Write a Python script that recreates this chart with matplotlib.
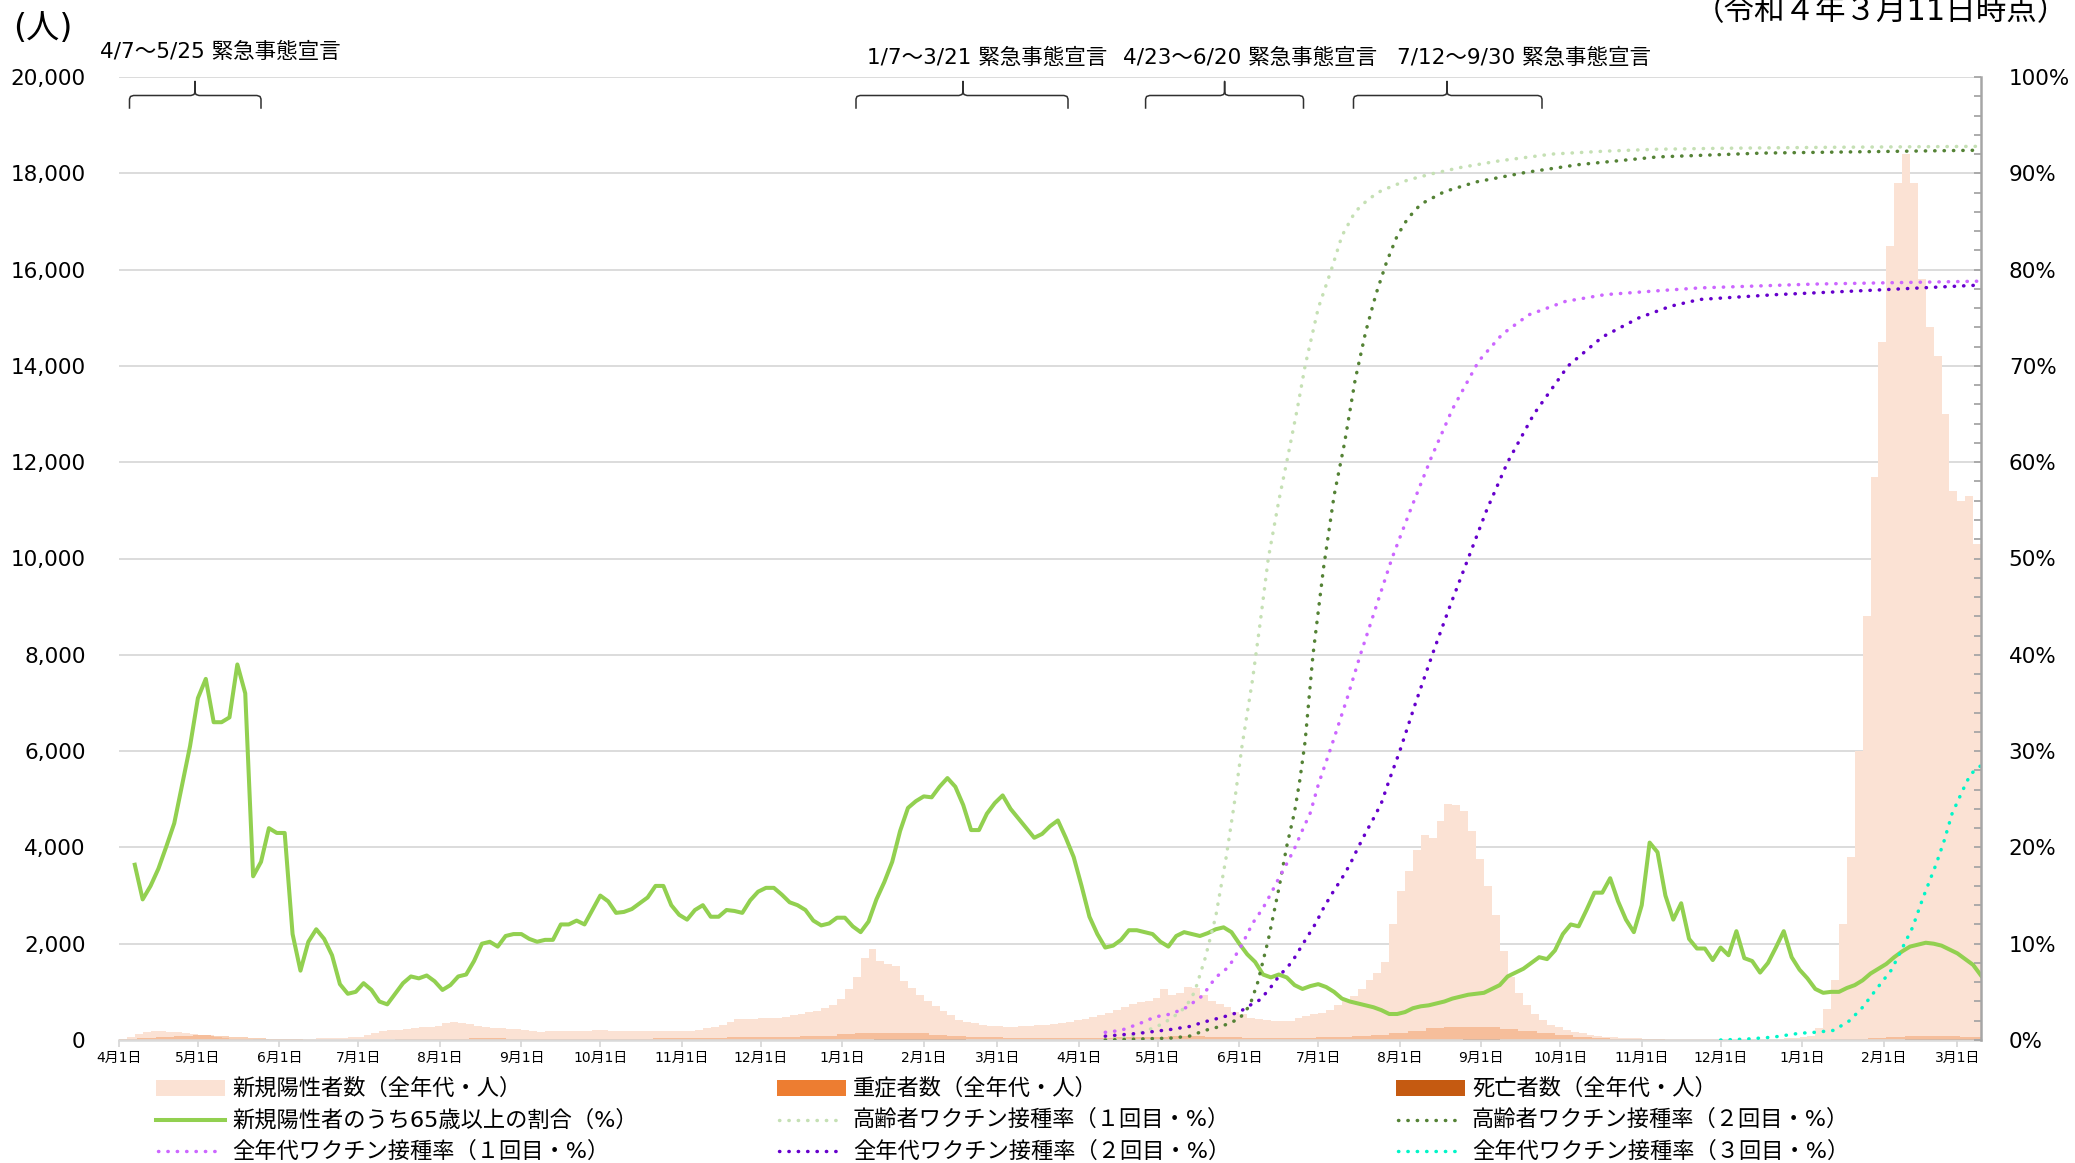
import numpy as np
import pandas as pd
import matplotlib
matplotlib.use('Agg')
import matplotlib.pyplot as plt
from matplotlib.lines import Line2D
from matplotlib.patches import Rectangle
from matplotlib.ticker import MultipleLocator, FuncFormatter

# 日本語はNoto CJK、数字はDejaVuで描く
plt.rcParams['font.family'] = ['DejaVu Sans', 'Noto Sans CJK JP']

W, H = 2075, 1163

# 新規陽性者数（7日平均, 2020-04-01から3日ごと）
new_cases = [20, 60, 120, 165, 185, 185, 175, 165, 145, 125, 112, 100, 70, 40, 22, 15, 12, 10, 10, 12,
             15, 18, 20, 25, 30, 35, 40, 45, 50, 55, 60, 110, 150, 180, 200, 215, 235, 255, 265, 275,
             285, 345, 365, 355, 330, 290, 265, 250, 240, 235, 220, 205, 185, 175, 185, 195, 190, 180, 180, 195,
             205, 205, 195, 187, 185, 185, 187, 190, 187, 187, 185, 185, 190, 215, 240, 270, 320, 380, 436, 436,
             440, 465, 465, 455, 480, 515, 550, 575, 610, 660, 720, 850, 1050, 1300, 1700, 1880, 1650, 1570, 1540, 1230,
             1080, 940, 800, 700, 600, 510, 420, 370, 345, 320, 295, 285, 280, 277, 285, 295, 305, 315, 330, 355,
             380, 410, 440, 470, 510, 555, 620, 690, 740, 790, 820, 865, 1050, 940, 970, 1100, 1080, 930, 810, 740,
             680, 590, 530, 460, 440, 410, 404, 400, 404, 450, 500, 530, 560, 630, 720, 800, 910, 1050, 1250, 1400,
             1620, 2400, 3100, 3500, 3950, 4250, 4200, 4550, 4900, 4880, 4750, 4350, 3750, 3200, 2600, 1850, 1300, 980, 730, 540,
             415, 320, 260, 215, 170, 140, 110, 85, 70, 57, 45, 38, 32, 28, 25, 22, 20, 20, 18, 18,
             17, 17, 17, 17, 18, 18, 18, 20, 22, 25, 28, 32, 40, 60, 90, 250, 650, 1250, 2400, 3800,
             6000, 8800, 11700, 14500, 16500, 17800, 18400, 17800, 15800, 14800, 14200, 13000, 11400, 11200, 11300, 10300, 9300]

# 重症者数・死亡者数（2020-04-01から7日ごと）
severe = [20, 45, 70, 90, 100, 80, 55, 35, 20, 12, 8, 6, 5, 6, 8, 12, 17, 22, 28, 32,
          33, 30, 28, 27, 25, 24, 24, 25, 28, 32, 38, 40, 45, 55, 60, 65, 70, 80, 90, 115,
          135, 150, 155, 135, 110, 90, 70, 55, 45, 42, 40, 40, 42, 48, 55, 62, 70, 75, 75, 70,
          60, 50, 45, 45, 50, 55, 60, 75, 100, 140, 190, 250, 270, 280, 260, 220, 180, 140, 100, 70,
          45, 30, 20, 12, 8, 5, 3, 2, 2, 2, 3, 4, 6, 12, 20, 35, 55, 75, 80, 75,
          65, 55]
deaths = [1, 2, 3, 4, 5, 5, 4, 3, 2, 1, 0.5, 0.5, 0.5, 0.3, 0.3, 0.5, 1, 1.5, 2, 2,
          2.5, 2.5, 2, 2, 1.5, 1.5, 1.5, 1, 1, 1, 1, 1, 1.5, 2, 2.5, 3, 3.5, 4, 5, 6,
          9, 12, 15, 16, 15, 12, 10, 8, 6, 5, 4, 4, 3, 3, 3, 3.5, 4, 4.5, 4.5, 4,
          3.5, 3, 2, 1.5, 1.5, 1, 1, 1, 1.5, 3, 5, 8, 10, 12, 11, 9, 7, 5, 4, 3,
          2, 1, 0.5, 0.3, 0.2, 0.2, 0.1, 0.1, 0.1, 0.1, 0.1, 0.2, 0.3, 0.5, 1, 3, 8, 15, 20, 22,
          20, 18]

# 新規陽性者のうち65歳以上の割合（%, 2020-04-07から3日ごと）
ratio65 = [18.2, 14.6, 16.0, 17.8, 20.1, 22.5, 26.5, 30.5, 35.5, 37.5, 33.0, 33.0, 33.5, 39.0, 36.0, 17.0, 18.5, 22.0, 21.5, 21.5,
           11.0, 7.2, 10.2, 11.5, 10.5, 8.8, 5.8, 4.8, 5.0, 5.9, 5.2, 4.0, 3.7, 4.8, 5.9, 6.6, 6.4, 6.7, 6.1, 5.2,
           5.7, 6.6, 6.8, 8.2, 10.0, 10.2, 9.7, 10.8, 11.0, 11.0, 10.5, 10.2, 10.4, 10.4, 12.0, 12.0, 12.4, 12.0, 13.5, 15.0,
           14.4, 13.2, 13.3, 13.6, 14.2, 14.8, 16.0, 16.0, 14.0, 13.0, 12.5, 13.5, 14.0, 12.8, 12.8, 13.5, 13.4, 13.2, 14.5, 15.4,
           15.8, 15.8, 15.1, 14.3, 14.0, 13.5, 12.4, 11.9, 12.1, 12.7, 12.7, 11.8, 11.2, 12.3, 14.6, 16.4, 18.5, 21.7, 24.1, 24.8,
           25.3, 25.2, 26.3, 27.2, 26.3, 24.4, 21.8, 21.8, 23.5, 24.6, 25.4, 24.0, 23.0, 22.0, 21.0, 21.4, 22.2, 22.8, 21.0, 19.0,
           16.0, 12.8, 11.0, 9.6, 9.8, 10.4, 11.4, 11.4, 11.2, 11.0, 10.2, 9.7, 10.8, 11.2, 11.0, 10.8, 11.1, 11.5, 11.7, 11.2,
           10.0, 8.9, 8.1, 6.8, 6.5, 6.8, 6.5, 5.7, 5.3, 5.6, 5.8, 5.5, 5.0, 4.3, 4.0, 3.8, 3.6, 3.4, 3.1, 2.7,
           2.7, 2.9, 3.3, 3.5, 3.6, 3.8, 4.0, 4.3, 4.5, 4.7, 4.8, 4.9, 5.3, 5.7, 6.6, 7.0, 7.4, 8.0, 8.6, 8.4,
           9.3, 11.0, 12.0, 11.8, 13.5, 15.3, 15.3, 16.8, 14.4, 12.5, 11.2, 14.0, 20.5, 19.5, 15.0, 12.5, 14.2, 10.5, 9.5, 9.5,
           8.3, 9.6, 8.8, 11.3, 8.5, 8.2, 7.0, 8.0, 9.6, 11.3, 8.6, 7.3, 6.4, 5.3, 4.9, 5.0, 5.0, 5.4, 5.7, 6.2,
           6.9, 7.4, 7.9, 8.6, 9.2, 9.7, 9.9, 10.1, 10.0, 9.8, 9.4, 9.0, 8.4, 7.8, 6.7]

# ワクチン接種率（%）
eld1_dates = ['2021-04-11', '2021-04-20', '2021-04-27', '2021-05-03', '2021-05-09', '2021-05-12', '2021-05-15',
              '2021-05-19', '2021-05-23', '2021-05-27', '2021-05-30', '2021-06-02', '2021-06-06', '2021-06-09',
              '2021-06-12', '2021-06-16', '2021-06-19', '2021-06-23', '2021-06-26', '2021-07-01', '2021-07-06',
              '2021-07-10', '2021-07-15', '2021-07-20', '2021-07-25', '2021-08-04', '2021-08-14', '2021-08-24',
              '2021-09-08', '2021-09-28', '2021-10-18', '2021-11-07', '2021-12-02', '2022-01-11', '2022-03-10']
eld1 = [0.0, 0.3, 1.0, 1.7, 2.8, 3.6, 5.0, 8.5, 12.8, 19.0, 24.4, 30.5, 37.4, 43.5, 50.0, 56.0, 60.0, 65.5,
        70.0, 76.0, 80.0, 83.5, 86.0, 87.3, 88.2, 89.3, 90.0, 90.6, 91.3, 92.0, 92.3, 92.5, 92.6, 92.7, 92.8]

eld2_dates = ['2021-04-11', '2021-05-06', '2021-05-13', '2021-05-19', '2021-05-26', '2021-06-01', '2021-06-05',
              '2021-06-08', '2021-06-12', '2021-06-16', '2021-06-19', '2021-06-22', '2021-06-24', '2021-06-26',
              '2021-06-29', '2021-07-03', '2021-07-07', '2021-07-11', '2021-07-15', '2021-07-19', '2021-07-23',
              '2021-07-27', '2021-07-31', '2021-08-04', '2021-08-09', '2021-08-18', '2021-08-30', '2021-09-18',
              '2021-10-08', '2021-11-07', '2021-12-17', '2022-03-10']
eld2 = [0.0, 0.2, 0.4, 1.0, 1.5, 2.2, 3.6, 6.0, 10.4, 15.7, 20.1, 23.7, 27.0, 31.0, 40.0, 49.0, 56.5, 62.0,
        68.5, 73.5, 77.5, 80.8, 83.5, 85.3, 86.8, 88.1, 89.1, 90.1, 90.9, 91.7, 92.1, 92.4]

all1_dates = ['2021-04-11', '2021-04-17', '2021-04-24', '2021-04-30', '2021-05-06', '2021-05-12', '2021-05-18',
              '2021-05-23', '2021-05-28', '2021-06-02', '2021-06-06', '2021-06-10', '2021-06-13', '2021-06-16',
              '2021-06-19', '2021-06-22', '2021-06-25', '2021-06-28', '2021-07-01', '2021-07-06', '2021-07-12',
              '2021-07-17', '2021-07-23', '2021-07-29', '2021-08-05', '2021-08-13', '2021-08-21', '2021-08-31',
              '2021-09-09', '2021-09-19', '2021-10-03', '2021-10-18', '2021-11-07', '2021-11-23', '2022-01-06',
              '2022-03-10']
all1 = [0.8, 1.0, 1.7, 2.4, 2.7, 3.4, 4.6, 6.5, 7.6, 9.9, 12.1, 13.7, 15.2, 16.8, 18.3, 19.9, 21.8, 23.6,
        26.5, 30.5, 35.5, 40.0, 45.0, 50.0, 55.0, 60.5, 65.5, 70.5, 73.3, 75.3, 76.7, 77.4, 77.8, 78.1, 78.5, 78.8]

all2_dates = ['2021-04-11', '2021-04-24', '2021-05-06', '2021-05-13', '2021-05-19', '2021-05-26', '2021-06-01',
              '2021-06-05', '2021-06-09', '2021-06-13', '2021-06-16', '2021-06-21', '2021-06-25', '2021-06-30',
              '2021-07-03', '2021-07-06', '2021-07-10', '2021-07-13', '2021-07-16', '2021-07-19', '2021-07-22',
              '2021-07-25', '2021-07-28', '2021-08-01', '2021-08-07', '2021-08-14', '2021-08-20', '2021-08-27',
              '2021-09-03', '2021-09-11', '2021-09-21', '2021-10-04', '2021-10-17', '2021-10-31', '2021-11-12',
              '2021-11-23', '2021-12-22', '2022-01-31', '2022-03-10']
all2 = [0.4, 0.7, 1.1, 1.4, 1.9, 2.4, 2.9, 3.6, 4.2, 5.5, 6.6, 8.1, 9.9, 12.1, 13.7, 15.1, 16.8, 18.2, 19.9,
        21.5, 23.0, 24.6, 27.0, 30.0, 35.0, 40.5, 45.0, 50.0, 55.0, 60.0, 65.0, 70.0, 73.0, 75.0, 76.2, 76.9,
        77.4, 77.9, 78.4]

all3_dates = ['2021-12-01', '2021-12-11', '2021-12-21', '2021-12-31', '2022-01-06', '2022-01-13', '2022-01-19',
              '2022-01-24', '2022-01-29', '2022-02-04', '2022-02-08', '2022-02-12', '2022-02-16', '2022-02-21',
              '2022-02-24', '2022-02-27', '2022-03-03', '2022-03-06', '2022-03-10']
all3 = [0.0, 0.1, 0.3, 0.7, 0.8, 1.0, 2.0, 3.4, 5.2, 7.3, 9.5, 11.7, 14.8, 18.3, 20.7, 23.5, 25.9, 27.6, 28.5]

declarations = ['4/7～5/25 緊急事態宣言', '1/7～3/21 緊急事態宣言', '4/23～6/20 緊急事態宣言', '7/12～9/30 緊急事態宣言']

c_cases, c_severe, c_death = '#FBE2D4', '#ED7D31', '#C55A11'
c_ratio = '#92D050'
c_eld1, c_eld2, c_all1, c_all2, c_all3 = '#C5E0B4', '#548235', '#CC66FF', '#6600CC', '#00F5C8'
dotted = dict(ls=(0, (0.1, 2.6)), lw=2.5, dash_capstyle='round')

fig = plt.figure(figsize=(W / 100, H / 100), dpi=100)
ax = fig.add_axes([119 / W, 1 - 1040 / H, (1981 - 119) / W, (1040 - 77) / H])
ax2 = ax.twinx()

# 棒グラフ（左軸）
case_x = pd.date_range('2020-04-01', periods=len(new_cases), freq='3D')
ax.bar(case_x, new_cases, width=3, align='edge', color=c_cases, linewidth=0)
week_x = pd.date_range('2020-04-01', periods=len(severe), freq='7D')
ax.bar(week_x, severe, width=7, align='edge', color=c_severe, alpha=0.35, linewidth=0)
ax.bar(week_x, deaths, width=7, align='edge', color=c_death, linewidth=0)

# 折れ線（右軸）
ratio_x = pd.date_range('2020-04-07', periods=len(ratio65), freq='3D')
ax2.plot(ratio_x, ratio65, color=c_ratio, lw=2.9, solid_joinstyle='round')
ax2.plot(pd.to_datetime(eld1_dates), eld1, color=c_eld1, **dotted)
ax2.plot(pd.to_datetime(eld2_dates), eld2, color=c_eld2, **dotted)
ax2.plot(pd.to_datetime(all1_dates), all1, color=c_all1, **dotted)
ax2.plot(pd.to_datetime(all2_dates), all2, color=c_all2, **dotted)
ax2.plot(pd.to_datetime(all3_dates), all3, color=c_all3, **dotted)

# 軸
ax.set_xlim(pd.Timestamp('2020-04-01'), pd.Timestamp('2022-03-10'))
ax.set_ylim(0, 20000)
ax2.set_ylim(0, 100)
months = pd.date_range('2020-04-01', '2022-03-01', freq='MS')
ax.set_xticks(months)
ax.set_xticklabels([f'{m.month}月1日' for m in months], fontsize=10)
ax.yaxis.set_major_locator(MultipleLocator(2000))
ax.yaxis.set_major_formatter(FuncFormatter(lambda v, p: f'{int(v):,}'))
ax2.yaxis.set_major_locator(MultipleLocator(10))
ax2.yaxis.set_minor_locator(MultipleLocator(2))
ax2.yaxis.set_major_formatter(FuncFormatter(lambda v, p: f'{int(v)}%'))

ax.set_axisbelow(True)
ax.grid(axis='y', color='#D9D9D9', lw=1.3)
for a in (ax, ax2):
    for s in ('top', 'left'):
        a.spines[s].set_visible(False)
ax.spines['right'].set_visible(False)
ax2.spines['bottom'].set_visible(False)
ax.spines['bottom'].set_color('#D9D9D9')
ax.spines['bottom'].set_linewidth(1.8)
ax2.spines['right'].set_color('#A6A6A6')
ax2.spines['right'].set_linewidth(1.8)
ax.tick_params(axis='y', length=0, pad=24, labelsize=15.5)
ax.tick_params(axis='x', length=5, width=1.3, color='#D9D9D9', pad=3)
ax2.tick_params(axis='y', which='both', direction='in', length=5, width=1.3, color='#A6A6A6', pad=20, labelsize=15.5)

# 注記
fig.text(43 / W, 1 - 29 / H, '(人)', fontsize=24, ha='center', va='center')
fig.text(2068 / W, 1 - 20 / H, '（令和４年３月11日時点）', fontsize=22, ha='right', va='baseline')

label_pos = [(100, 52), (867, 58), (1123, 58), (1397, 58)]
for (lx, ly), txt in zip(label_pos, declarations):
    fig.text(lx / W, 1 - ly / H, txt, fontsize=15.5, ha='left', va='center')

brace_pos = [(129.5, 261, 195), (856, 1068, 963), (1145.6, 1303.5, 1224.6), (1353.5, 1542, 1447)]
for x1, x2, xc in brace_pos:
    xs = [x1, x1, x1 + 1, x1 + 4, xc - 4, xc - 1, xc, xc, xc, xc + 1, xc + 4, x2 - 4, x2 - 1, x2, x2]
    ys = [108, 99, 96.5, 95.5, 95.5, 94.5, 92, 81.5, 92, 94.5, 95.5, 95.5, 96.5, 99, 108]
    fig.add_artist(Line2D([x / W for x in xs], [1 - y / H for y in ys], color='#303030', lw=1.1))

# 凡例（3列×3行）
legend_items = [
    ('新規陽性者数（全年代・人）', 'bar', c_cases),
    ('重症者数（全年代・人）', 'bar', c_severe),
    ('死亡者数（全年代・人）', 'bar', c_death),
    ('新規陽性者のうち65歳以上の割合（%）', 'line', c_ratio),
    ('高齢者ワクチン接種率（１回目・%）', 'dot', c_eld1),
    ('高齢者ワクチン接種率（２回目・%）', 'dot', c_eld2),
    ('全年代ワクチン接種率（１回目・%）', 'dot', c_all1),
    ('全年代ワクチン接種率（２回目・%）', 'dot', c_all2),
    ('全年代ワクチン接種率（３回目・%）', 'dot', c_all3),
]
col_x = [156, 777, 1396]
row_y = [1088, 1119.5, 1151]
for i, (txt, kind, col) in enumerate(legend_items):
    hx, hy = col_x[i % 3], row_y[i // 3]
    if kind == 'bar':
        fig.add_artist(Rectangle((hx / W, 1 - (hy + 8) / H), 69 / W, 16 / H, color=col, lw=0))
    elif kind == 'line':
        fig.add_artist(Line2D([hx / W, (hx + 69) / W], [1 - hy / H] * 2, color=col, lw=2.9))
    else:
        fig.add_artist(Line2D([(hx + 2) / W, (hx + 67) / W], [1 - hy / H] * 2, color=col, **dotted))
    fig.text((hx + 76) / W, 1 - hy / H, txt, fontsize=16, ha='left', va='center')

fig.savefig('out.png', dpi=100)
